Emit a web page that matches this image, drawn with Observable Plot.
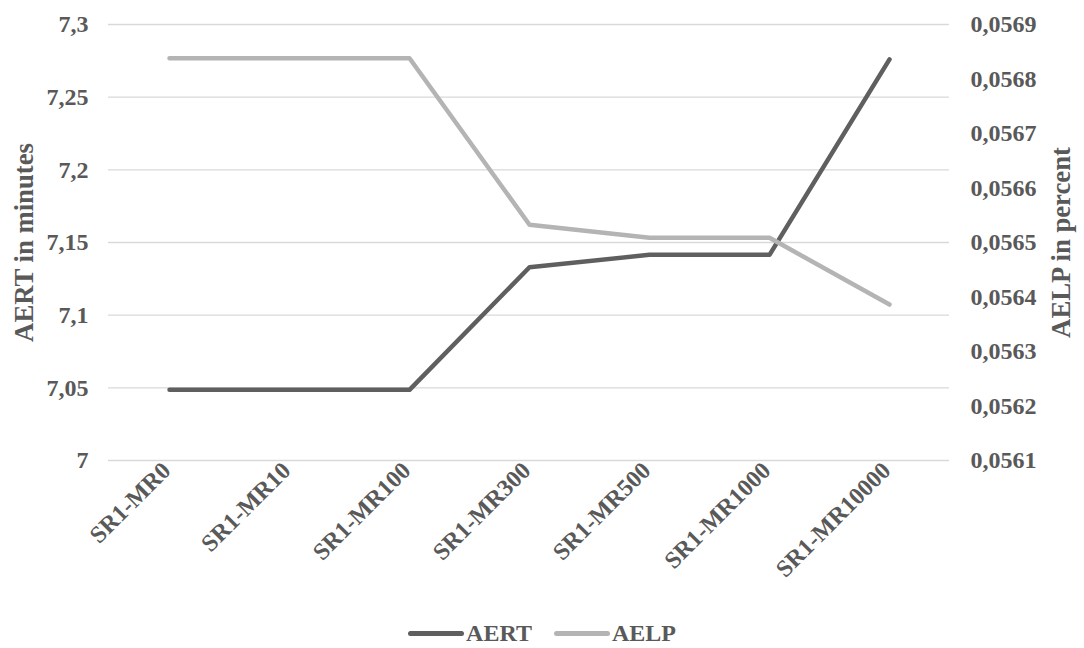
<!DOCTYPE html>
<html>
<head>
<meta charset="utf-8">
<script src="https://cdn.jsdelivr.net/npm/d3@7"></script>
<script src="https://cdn.jsdelivr.net/npm/@observablehq/plot@0.6"></script>
<style>
  html, body { margin: 0; padding: 0; background: #fff; }
  #chart { width: 1084px; height: 648px; font-family: 'Liberation Serif', 'Times New Roman', serif; font-weight: bold; color: #595959; }
  #chart svg text { font-weight: bold; }
  .legend { display: flex; justify-content: center; align-items: center; height: 30px; font-size: 24px; }
  .legend .item { display: flex; align-items: center; margin: 0 11px; }
  .legend .swatch { width: 56px; height: 5px; border-radius: 3px; margin-right: 2px; }
</style>
</head>
<body>
<div id="chart"></div>
<script>
// Scenario configurations along the x axis
const categories = ["SR1-MR0", "SR1-MR10", "SR1-MR100", "SR1-MR300", "SR1-MR500", "SR1-MR1000", "SR1-MR10000"];
// Average emergency response time (minutes), left axis
const aert = [7.0486, 7.0486, 7.0486, 7.133, 7.1415, 7.1415, 7.276];
// Average expected loss probability (percent), right axis
const aelp = [0.056838, 0.056838, 0.056838, 0.0565325, 0.0565086, 0.0565086, 0.0563862];

const seriesNames = ["AERT", "AELP"];
const seriesColors = ["#5f5f5f", "#b4b4b4"];

// Axis ticks
const leftTicks = [7, 7.05, 7.1, 7.15, 7.2, 7.25, 7.3];
const rightTicks = [0.0561, 0.0562, 0.0563, 0.0564, 0.0565, 0.0566, 0.0567, 0.0568, 0.0569];

// Map the right-axis domain onto the left-axis domain
const L0 = 7, L1 = 7.3, R0 = 0.0561, R1 = 0.0569;
const toLeft = v => L0 + (v - R0) / (R1 - R0) * (L1 - L0);
const fromLeft = v => R0 + (v - L0) / (L1 - L0) * (R1 - R0);
const comma = s => s.replace(".", ",");

const rows = [];
categories.forEach((c, i) => {
  rows.push({category: c, series: "AERT", y: aert[i]});
  rows.push({category: c, series: "AELP", y: toLeft(aelp[i])});
});

const font = "'Liberation Serif', 'Times New Roman', serif";

const plot = Plot.plot({
  width: 1084,
  height: 618,
  marginLeft: 108,
  marginRight: 135,
  marginTop: 24,
  marginBottom: 158,
  style: {fontFamily: font, fontSize: "24px", fontWeight: "bold", color: "#595959", background: "#fff"},
  x: {type: "point", domain: categories, padding: 0.5},
  y: {domain: [L0, L1]},
  color: {domain: seriesNames, range: seriesColors},
  marks: [
    Plot.gridY(leftTicks, {stroke: "#d9d9d9", strokeOpacity: 1, strokeWidth: 1.3}),
    Plot.axisY({ticks: leftTicks, tickSize: 0, tickPadding: 20, label: null, fontWeight: "bold",
      tickFormat: d => comma(String(d))}),
    Plot.axisY({anchor: "right", ticks: rightTicks.map(toLeft), tickSize: 0, tickPadding: 21, label: null, fontWeight: "bold",
      tickFormat: d => comma(fromLeft(d).toFixed(4))}),
    Plot.axisX({tickSize: 0, tickPadding: 6, dx: -3, tickRotate: -45, label: null, fontWeight: "bold"}),
    Plot.text(["AERT in minutes"], {frameAnchor: "left", dx: -84, rotate: -90, textAnchor: "middle", fontSize: 26.7, fontWeight: "bold", fill: "#595959"}),
    Plot.text(["AELP in percent"], {frameAnchor: "right", dx: 112, rotate: -90, textAnchor: "middle", fontSize: 26.7, fontWeight: "bold", fill: "#595959"}),
    Plot.line(rows.filter(d => d.series === "AERT"), {x: "category", y: "y", stroke: "series", strokeWidth: 4.5, strokeLinecap: "round", strokeLinejoin: "round"}),
    Plot.line(rows.filter(d => d.series === "AELP"), {x: "category", y: "y", stroke: "series", strokeWidth: 4.5, strokeLinecap: "round", strokeLinejoin: "round"})
  ]
});

const chart = document.getElementById("chart");
chart.appendChild(plot);

// Legend below the plot
const legend = document.createElement("div");
legend.className = "legend";
seriesNames.forEach((name, i) => {
  const item = document.createElement("div");
  item.className = "item";
  const sw = document.createElement("div");
  sw.className = "swatch";
  sw.style.background = seriesColors[i];
  const label = document.createElement("span");
  label.textContent = name;
  item.appendChild(sw);
  item.appendChild(label);
  legend.appendChild(item);
});
chart.appendChild(legend);
</script>
</body>
</html>
